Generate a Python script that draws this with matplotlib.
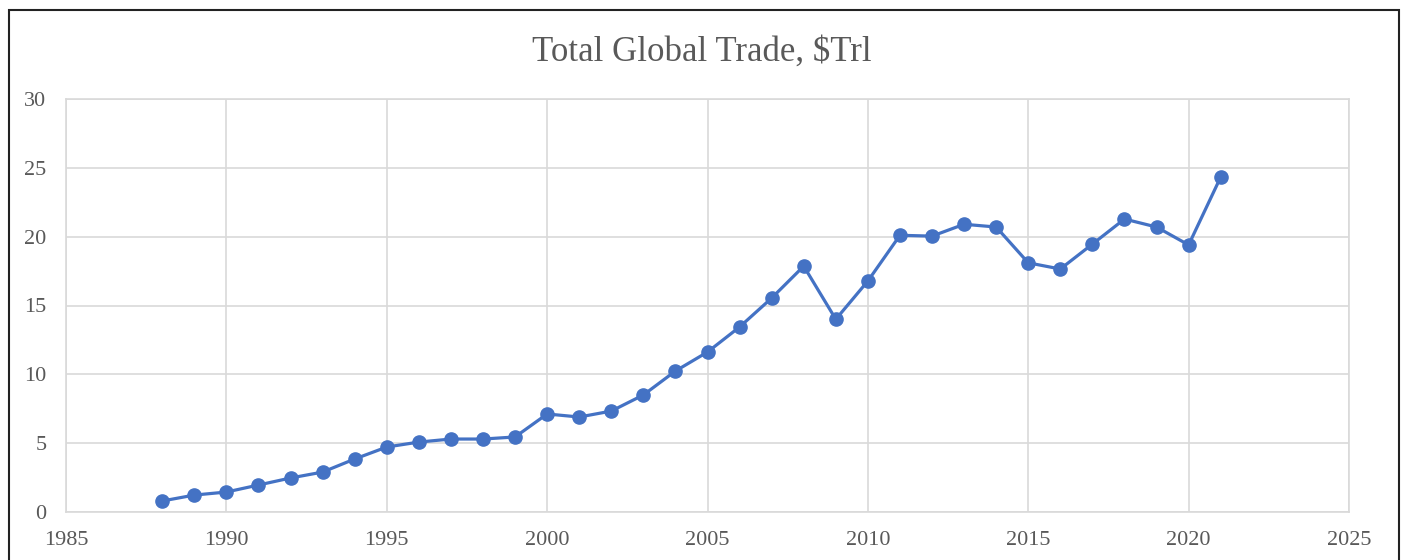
import matplotlib
matplotlib.use("Agg")
import matplotlib.pyplot as plt
from matplotlib.patches import Rectangle

years = list(range(1988, 2022))
trade = [0.8, 1.23, 1.45, 1.96, 2.47, 2.9, 3.85, 4.72, 5.08, 5.3, 5.3, 5.45,
         7.12, 6.9, 7.33, 8.5, 10.24, 11.62, 13.44, 15.54, 17.86, 14.0, 16.78,
         20.1, 20.04, 20.9, 20.7, 18.1, 17.65, 19.46, 21.28, 20.7, 19.4, 24.33]
title = "Total Global Trade, $Trl"
xticks = [1985, 1990, 1995, 2000, 2005, 2010, 2015, 2020, 2025]
yticks = [0, 5, 10, 15, 20, 25, 30]

plt.rcParams['font.family'] = ['Liberation Serif', 'DejaVu Serif']

W, H = 1403, 560
fig = plt.figure(figsize=(W / 100, H / 100), dpi=100)
ax = fig.add_axes([66 / W, 1 - 512 / H, (1349 - 66) / W, (512 - 99) / H])

ax.plot(years, trade, color='#4472C4', lw=2.3, marker='o', markersize=9.5,
        markerfacecolor='#4472C4', markeredgecolor='#4472C4', zorder=3)

ax.set_xlim(1985, 2025)
ax.set_ylim(0, 30)
ax.set_xticks(xticks)
ax.set_yticks(yticks)
ax.grid(True, color='#d9d9d9', lw=1.2)
ax.set_axisbelow(True)
for s in ax.spines.values():
    s.set_color('#d9d9d9')
    s.set_linewidth(1.2)
ax.tick_params(length=0, labelsize=16, labelcolor='#595959')
ax.tick_params(axis='y', pad=14)
ax.tick_params(axis='x', pad=13.5)

fig.text(0.5, 1 - 52 / H, title, ha='center', va='center', fontsize=25,
         color='#595959')

fig.patches.append(Rectangle((9 / W, -0.1), (1399 - 9) / W, 1.1 - 10 / H,
                             transform=fig.transFigure, fill=False,
                             edgecolor='#222222', lw=1.5, clip_on=False))

fig.savefig('out.png', dpi=100, facecolor='white')
